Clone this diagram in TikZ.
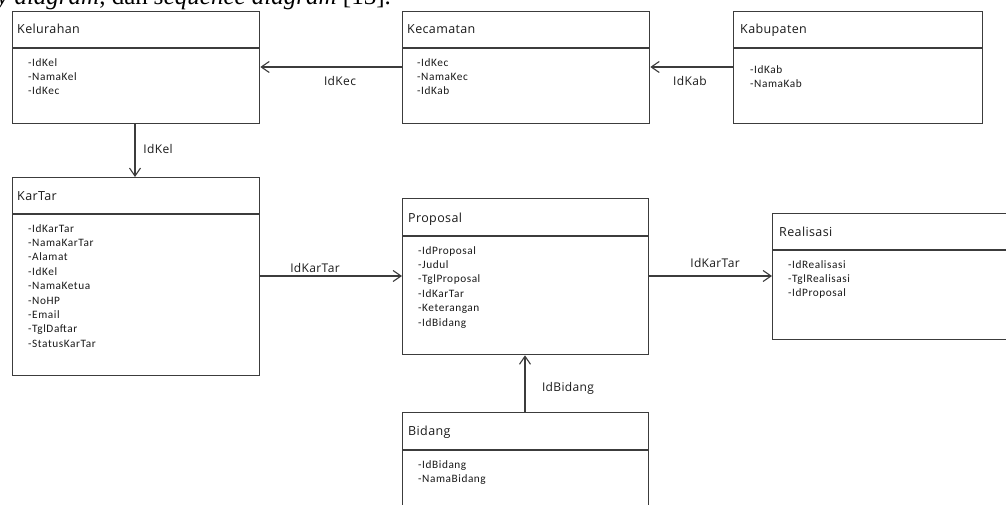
\documentclass[tikz,border=0pt]{standalone}
\usepackage{fontspec}
\setmainfont{Open Sans}
\newfontfamily\attrfont[LetterSpace=5]{Carlito}
\newfontfamily\titlefont[LetterSpace=3]{Open Sans}
\newfontfamily\capfont{Liberation Serif}
\usetikzlibrary{arrows.meta}
\definecolor{linec}{HTML}{3C3C3C}
\definecolor{textc}{HTML}{1A1A1A}
\tikzset{
  x=1pt, y=-1pt,
  entity/.style={draw=linec, line width=1.3pt, inner sep=0pt, anchor=north west, fill=white},
  sepline/.style={draw=linec, line width=1.1pt},
  etitle/.style={anchor=base west, inner sep=0pt, text=textc, font=\titlefont\fontsize{12.5}{14}\selectfont},
  eattr/.style={anchor=north west, inner sep=0pt, align=left, text=textc, font=\attrfont\fontsize{11.3}{14.4}\selectfont},
  rel/.style={draw=linec, line width=1.2pt, -{Straight Barb[length=8pt,width=11pt,line width=1.1pt]}},
  rlabel/.style={inner sep=0pt, text=textc, font=\titlefont\fontsize{12}{14}\selectfont},
}
\begin{document}
\begin{tikzpicture}
\useasboundingbox (0,0) rectangle (1006,505);
\clip (0,0) rectangle (1006,505);

% caption fragment at top
\node[anchor=base west, inner sep=0pt, font=\capfont\fontsize{25}{25}\selectfont] (cap) at (-3,5)
  {\textit{y diagram}, dan \textit{sequence diagram} [13].};

% Kelurahan
\node[entity, minimum width=247pt, minimum height=112pt] (kel) at (12,11) {};
\draw[sepline] (kel.west |- 0,48) -- (kel.east |- 0,48);
\node[etitle] (kelT) at (17,33.5) {Kelurahan};
\node[eattr] (kelA) at (28,58) {-IdKel\\-NamaKel\\-IdKec};

% Kecamatan
\node[entity, minimum width=247pt, minimum height=112pt] (kec) at (402,11) {};
\draw[sepline] (kec.west |- 0,48) -- (kec.east |- 0,48);
\node[etitle] (kecT) at (407,33.5) {Kecamatan};
\node[eattr] (kecA) at (417,58) {-IdKec\\-NamaKec\\-IdKab};

% Kabupaten
\node[entity, minimum width=249pt, minimum height=112pt] (kab) at (733,11) {};
\draw[sepline] (kab.west |- 0,48) -- (kab.east |- 0,48);
\node[etitle] (kabT) at (740,33.5) {Kabupaten};
\node[eattr] (kabA) at (750,65) {-IdKab\\-NamaKab};

% KarTar
\node[entity, minimum width=247pt, minimum height=198pt] (kar) at (12,177) {};
\draw[sepline] (kar.west |- 0,214) -- (kar.east |- 0,214);
\node[etitle] (karT) at (17,200.5) {KarTar};
\node[eattr] (karA) at (28,224) {-IdKarTar\\-NamaKarTar\\-Alamat\\-IdKel\\-NamaKetua\\-NoHP\\-Email\\-TglDaftar\\-StatusKarTar};

% Proposal
\node[entity, minimum width=246pt, minimum height=156pt] (prop) at (402,198) {};
\draw[sepline] (prop.west |- 0,236) -- (prop.east |- 0,236);
\node[etitle] (propT) at (408,222.5) {Proposal};
\node[eattr] (propA) at (418,246) {-IdProposal\\-Judul\\-TglProposal\\-IdKarTar\\-Keterangan\\-IdBidang};

% Realisasi
\node[entity, minimum width=250pt, minimum height=126pt] (real) at (772,213) {};
\draw[sepline] (real.west |- 0,250) -- (real.east |- 0,250);
\node[etitle] (realT) at (779,236.5) {Realisasi};
\node[eattr] (realA) at (788,260) {-IdRealisasi\\-TglRealisasi\\-IdProposal};

% Bidang
\node[entity, minimum width=246pt, minimum height=110pt] (bid) at (402,412) {};
\draw[sepline] (bid.west |- 0,450) -- (bid.east |- 0,450);
\node[etitle] (bidT) at (408,435.5) {Bidang};
\node[eattr] (bidA) at (418,460) {-IdBidang\\-NamaBidang};

% relations
\draw[rel] (kec.west |- 0,67) -- (kel.east |- 0,67);
\node[rlabel] (lKec) at (340,81) {IdKec};

\draw[rel] (kab.west |- 0,67) -- (kec.east |- 0,67);
\node[rlabel] (lKab) at (690,81) {IdKab};

\draw[rel] (kel.south -| 135,0) -- (kar.north -| 135,0);
\node[rlabel] (lKel) at (158,149) {IdKel};

\draw[rel] (kar.east |- 0,276) -- (prop.west |- 0,276);
\node[rlabel] (lKar1) at (315,268) {IdKarTar};

\draw[rel] (prop.east |- 0,276) -- (real.west |- 0,276);
\node[rlabel] (lKar2) at (715,263) {IdKarTar};

\draw[rel] (bid.north -| 525,0) -- (prop.south -| 525,0);
\node[rlabel, anchor=base] (lBid) at (568,391.5) {IdBidang};
\end{tikzpicture}
\end{document}
